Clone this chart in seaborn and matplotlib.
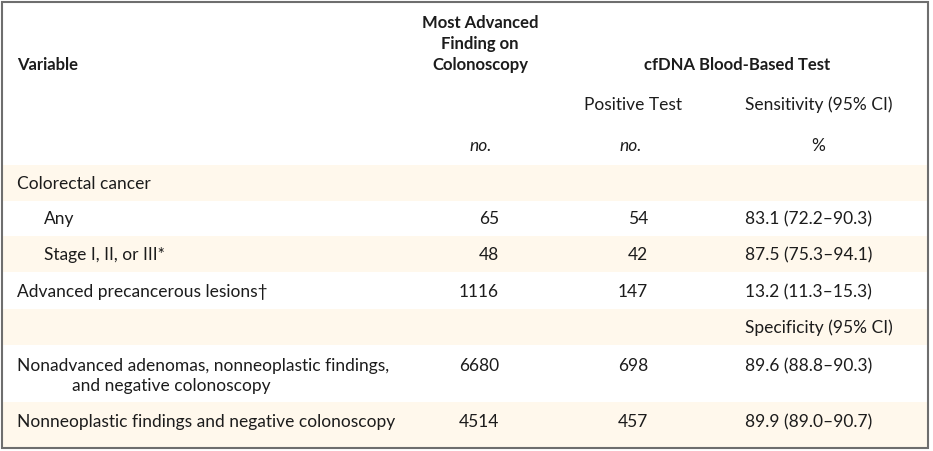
"""
Table: cfDNA blood-based test results by most advanced colonoscopy finding.
"""

import matplotlib.pyplot as plt
import seaborn as sns
from matplotlib.patches import Rectangle

# ---- table contents ----
variables = [
    "Colorectal cancer",
    "Any",
    "Stage I, II, or III*",
    "Advanced precancerous lesions\u2020",
    "",
    "Nonadvanced adenomas, nonneoplastic findings,",
    "Nonneoplastic findings and negative colonoscopy",
]
variable_cont = ["", "", "", "", "", "and negative colonoscopy", ""]
indent = [0, 1, 1, 0, 0, 0, 0]
colonoscopy_n = ["", "65", "48", "1116", "", "6680", "4514"]
positive_n = ["", "54", "42", "147", "", "698", "457"]
percent_ci = [
    "",
    "83.1 (72.2\u201390.3)",
    "87.5 (75.3\u201394.1)",
    "13.2 (11.3\u201315.3)",
    "Specificity (95% CI)",
    "89.6 (88.8\u201390.3)",
    "89.9 (89.0\u201390.7)",
]

# ---- layout (pixels) ----
W, H = 933, 451
row_edges = [165, 201, 236, 272, 309, 345, 402, 447]
shaded = [True, False, True, False, True, False, True]
text_y = [184, 219, 255, 292, 328, 366, 422]
x_var, x_indent, x_cont = 17, 44, 72
x_col1, x_col2, x_col3 = 499, 648, 745

sns.set_theme(style="white")
plt.rcParams["font.family"] = ["Lato", "DejaVu Sans"]

TXT = "#1c1c1c"
BAND = "#fff8ec"
FS = 12.5
FS_HEAD = 12.0

fig = plt.figure(figsize=(W / 100, H / 100), dpi=100)
ax = fig.add_axes([0, 0, 1, 1])
ax.set_xlim(0, W)
ax.set_ylim(H, 0)
ax.axis("off")

# row bands
for i, sh in enumerate(shaded):
    if sh:
        ax.axhspan(row_edges[i], row_edges[i + 1], xmin=2 / W, xmax=928 / W,
                   color=BAND, lw=0, zorder=0)

# header
ax.text(x_var, 65, "Variable", fontsize=FS_HEAD, fontweight="bold", color=TXT,
        va="center", ha="left")
for y, line in zip([23, 44, 65], ["Most Advanced", "Finding on", "Colonoscopy"]):
    ax.text(480, y, line, fontsize=FS_HEAD, fontweight="bold", color=TXT,
            va="center", ha="center")
ax.text(737, 65, "cfDNA Blood-Based Test", fontsize=FS_HEAD, fontweight="bold",
        color=TXT, va="center", ha="center")
ax.text(633, 105, "Positive Test", fontsize=FS, color=TXT, va="center", ha="center")
ax.text(x_col3, 105, "Sensitivity (95% CI)", fontsize=FS, color=TXT,
        va="center", ha="left")
ax.text(481, 146, "no.", fontsize=FS, style="italic", color=TXT, va="center", ha="center")
ax.text(631, 146, "no.", fontsize=FS, style="italic", color=TXT, va="center", ha="center")
ax.text(818, 146, "%", fontsize=FS, color=TXT, va="center", ha="center")

# body
for i, y in enumerate(text_y):
    x = x_indent if indent[i] else x_var
    ax.text(x, y, variables[i], fontsize=FS, color=TXT, va="center", ha="left")
    if variable_cont[i]:
        ax.text(x_cont, y + 20, variable_cont[i], fontsize=FS, color=TXT,
                va="center", ha="left")
    ax.text(x_col1, y, colonoscopy_n[i], fontsize=FS, color=TXT, va="center", ha="right")
    ax.text(x_col2, y, positive_n[i], fontsize=FS, color=TXT, va="center", ha="right")
    ax.text(x_col3, y, percent_ci[i], fontsize=FS, color=TXT, va="center", ha="left")

# outer frame
ax.add_patch(Rectangle((2, 1.5), 926, 446, fill=False, ec="#6e6e6e", lw=1.5, zorder=5))

fig.savefig("out.png", dpi=100)
plt.close(fig)
